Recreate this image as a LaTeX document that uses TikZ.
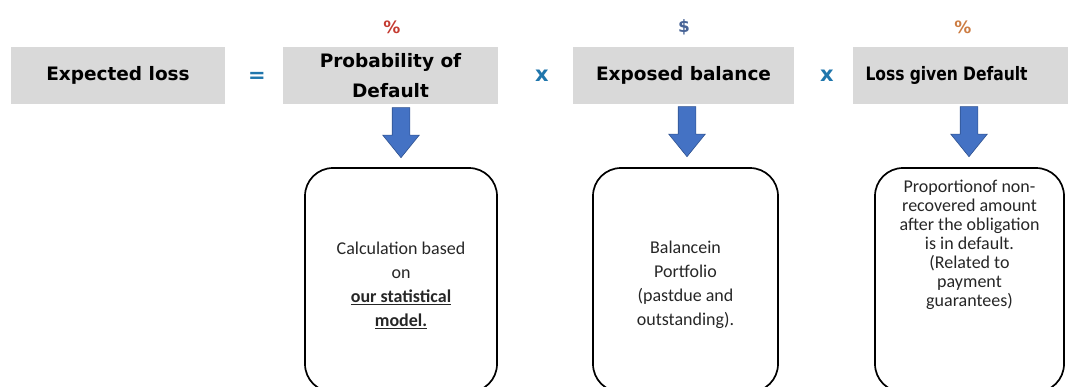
\documentclass[tikz,border=0pt]{standalone}
\usepackage{fontspec}
\setmainfont{Carlito}
\newfontfamily\headfont{DejaVu Sans}
\usetikzlibrary{shapes.arrows,positioning,calc}

\definecolor{boxgray}{RGB}{217,217,217}
\definecolor{opblue}{RGB}{32,118,172}
\definecolor{pdred}{RGB}{196,58,48}
\definecolor{eadblue}{RGB}{72,100,150}
\definecolor{lgdorange}{RGB}{204,124,66}
\definecolor{arrowblue}{RGB}{68,114,196}
\definecolor{arrowedge}{RGB}{47,82,143}
\definecolor{textdark}{RGB}{38,38,38}

\tikzset{
  factor/.style={fill=boxgray, minimum height=57pt, inner sep=0pt, align=center,
    font=\headfont\bfseries\fontsize{18.5}{30}\selectfont},
  operator/.style={text=opblue, font=\headfont\bfseries\fontsize{21}{21}\selectfont},
  unit/.style={font=\headfont\bfseries\fontsize{17}{17}\selectfont},
  infobox/.style={draw, line width=1.7pt, rounded corners=28pt, minimum height=224pt, inner sep=0pt},
  infotext/.style={align=center, text=textdark, font=\fontsize{18}{24}\selectfont},
  blockarrow/.style={single arrow, fill=arrowblue, draw=arrowedge, line width=0.6pt,
    rotate=-90, anchor=tip, inner xsep=0pt, inner ysep=8.5pt, minimum height=50pt,
    single arrow head extend=9.5pt, single arrow tip angle=78}
}

\begin{document}
\begin{tikzpicture}[x=1pt,y=-1pt]
  \useasboundingbox (0,0) rectangle (1068,386);
  % factors of the formula
  \node [factor, minimum width=214pt] (el) at (118,75.5) {Expected loss};
  \node [factor, minimum width=215pt] (pd) at (390.5,75.5) {Probability of\\Default};
  \node [factor, minimum width=221pt] (ead) at (683.5,75.5) {Exposed balance};
  \node [factor, minimum width=215pt, text width=190pt, align=left] (lgd) at (960.5,75.5) {\scalebox{0.84}[1]{Loss given Default}};
  \node [operator] (eq) at (257,77) {=};
  \node [operator] (times1) at (542,76) {x};
  \node [operator] (times2) at (827,76) {x};
  % units
  \node [unit, text=pdred] (pdunit) at (392,27) {\%};
  \node [unit, text=eadblue] (eadunit) at (684,27) {\$};
  \node [unit, text=lgdorange] (lgdunit) at (963,27) {\%};
  % descriptions
  \node [infobox, minimum width=192pt] (calc) at (401,280) {};
  \node [infobox, minimum width=185pt] (bal) at (685.5,280) {};
  \node [infobox, minimum width=189pt] (prop) at (969.5,280) {};
  \node [infotext] (calctext) at (401,285) {Calculation based\\on\\\underline{\textbf{our statistical}}\\\underline{\textbf{model.}}};
  \node [infotext] (baltext) at (685.5,285) {Balancein\\Portfolio\\(pastdue and\\outstanding).};
  \node [infotext, font=\fontsize{18}{19}\selectfont] (proptext) at (969.5,245) {Proportionof non-\\recovered amount\\after the obligation\\is in default.\\(Related to\\payment\\guarantees)};
  % block arrows
  \node [blockarrow] (pdarrow) at ($(calc.north)+(0,-9)$) {};
  \node [blockarrow] (eadarrow) at ($(bal.north)+(1.5,-10)$) {};
  \node [blockarrow] (lgdarrow) at ($(prop.north)+(-0.5,-10)$) {};
\end{tikzpicture}
\end{document}
